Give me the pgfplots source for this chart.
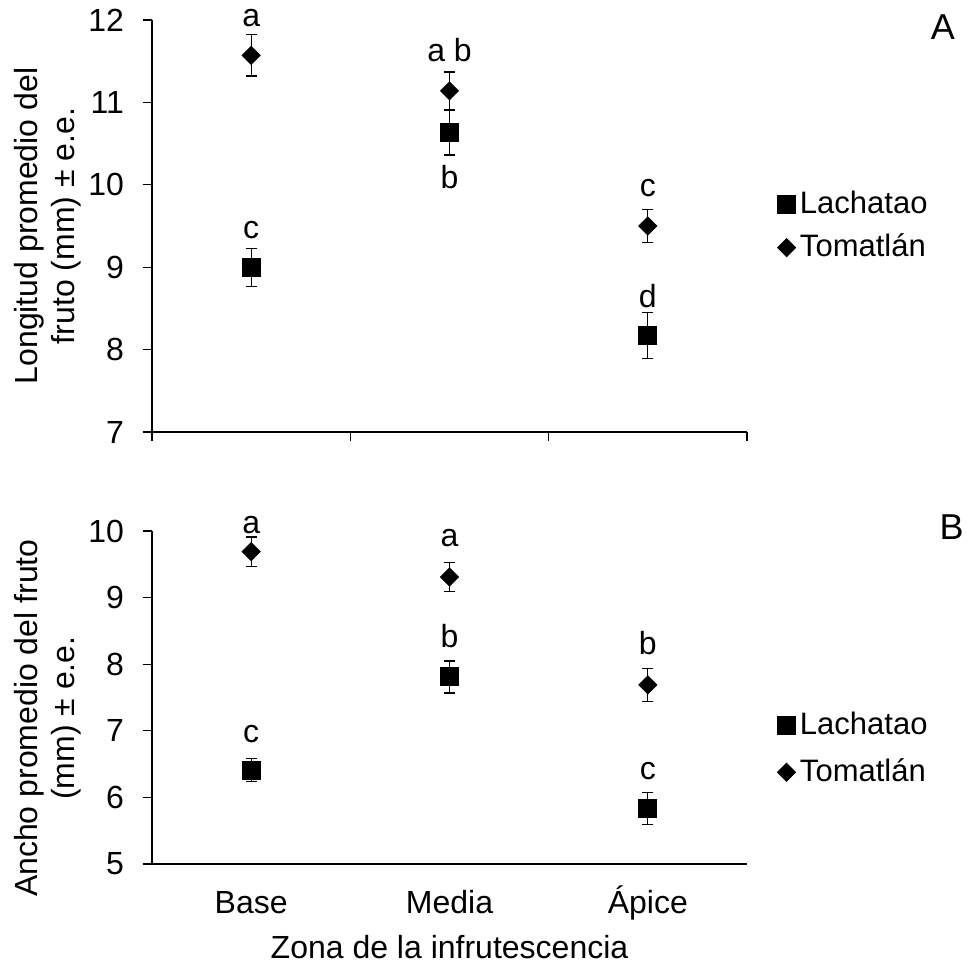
\documentclass[border=0pt]{standalone}
\usepackage{fontspec}
\setmainfont{Liberation Sans}
\usepackage{pgfplots}
\pgfplotsset{compat=1.18}

\pgfplotsset{
  panel/.style={
    scale only axis,
    width=297.5pt,
    xmin=0.5, xmax=3.5,
    axis lines=left,
    axis line style={-, black, line width=0.65pt},
    tick align=outside,
    major tick length=4.5pt,
    tick style={black, line width=0.65pt},
    clip=false,
    /pgf/number format/assume math mode=true,
    tick label style={font=\fontsize{16}{19}\selectfont},
    yticklabel style={xshift=-4pt},
    ylabel style={align=center, font=\fontsize{16}{18.5}\selectfont, anchor=center},
    legend style={draw=none, fill=none, font=\fontsize{15.5}{18}\selectfont, anchor=west},
    legend cell align=left,
    legend image code/.code={\path (-4.5pt,0pt) (4.5pt,0pt); \draw[##1] plot coordinates {(0pt,0pt)};},
  },
  lach/.style={only marks, black, mark=square*, mark size=4.5pt, mark options={fill=black},
    error bars/.cd, y dir=both, y explicit, error mark=|,
    error bar style={line width=0.65pt, black},
    error mark options={black, mark size=2.7pt, line width=0.65pt}},
  toma/.style={only marks, black, mark=square*, mark size=3.2pt, mark options={fill=black, rotate=45},
    error bars/.cd, y dir=both, y explicit, error mark=|,
    error bar style={line width=0.65pt, black},
    error mark options={black, mark size=2.7pt, line width=0.65pt}},
}

\begin{document}
\fontsize{16}{19}\selectfont
\begin{tikzpicture}
\begin{axis}[panel, name=top, height=206pt,
  ymin=7, ymax=12, ytick={7,8,9,10,11,12},
  xtick={0.5,1.5,2.5,3.5}, xticklabels={},
  ylabel={Longitud promedio del\\fruto (mm) ± e.e.},
  ylabel style={at={(rel axis cs:-0.175,0.5)}},
  legend style={at={(rel axis cs:1.04,0.5)}, row sep=4pt}]
\addplot[lach] coordinates {(1,9.00) +- (0,0.23) (2,10.63) +- (0,0.27) (3,8.17) +- (0,0.28)};
\addlegendentry{Lachatao}
\addplot[toma] coordinates {(1,11.57) +- (0,0.25) (2,11.14) +- (0,0.23) (3,9.50) +- (0,0.20)};
\addlegendentry{Tomatlán}
\node[anchor=base] at (axis cs:1,11.927) {a};
\node[anchor=base] at (axis cs:1,9.35) {c};
\node[anchor=base] at (axis cs:2,11.494) {a b};
\node[anchor=base] at (axis cs:2,9.957) {b};
\node[anchor=base] at (axis cs:3,9.856) {c};
\node[anchor=base] at (axis cs:3,8.513) {d};
\node[font=\fontsize{18}{20}\selectfont] at (rel axis cs:1.329,0.983) {A};
\end{axis}

\begin{axis}[panel, at={(0pt,-216pt)}, anchor=south west, height=166.5pt,
  ymin=5, ymax=10, ytick={5,6,7,8,9,10},
  xtick={1,2,3}, xticklabels={Base,Media,Ápice},
  x tick style={draw=none},
  xticklabel style={anchor=base, yshift=-20pt},
  xlabel={Zona de la infrutescencia},
  xlabel style={at={(rel axis cs:0.5,0)}, anchor=base, yshift=-47pt, font=\fontsize{16}{19}\selectfont},
  ylabel={Ancho promedio del fruto\\(mm) ± e.e.},
  ylabel style={at={(rel axis cs:-0.175,0.438)}},
  legend style={at={(rel axis cs:1.04,0.345)}, row sep=5.5pt}]
\addplot[lach] coordinates {(1,6.41) +- (0,0.17) (2,7.81) +- (0,0.24) (3,5.83) +- (0,0.24)};
\addlegendentry{Lachatao}
\addplot[toma] coordinates {(1,9.69) +- (0,0.22) (2,9.31) +- (0,0.22) (3,7.69) +- (0,0.25)};
\addlegendentry{Tomatlán}
\node[anchor=base] at (axis cs:1,9.965) {a};
\node[anchor=base] at (axis cs:1,6.824) {c};
\node[anchor=base] at (axis cs:2,9.764) {a};
\node[anchor=base] at (axis cs:2,8.255) {b};
\node[anchor=base] at (axis cs:3,8.14) {b};
\node[anchor=base] at (axis cs:3,6.265) {c};
\node[font=\fontsize{18}{20}\selectfont] at (rel axis cs:1.344,1.012) {B};
\end{axis}
\pgfresetboundingbox
\path[use as bounding box] (-76pt,-266pt) rectangle (407.5pt,216pt);
\end{tikzpicture}
\end{document}
